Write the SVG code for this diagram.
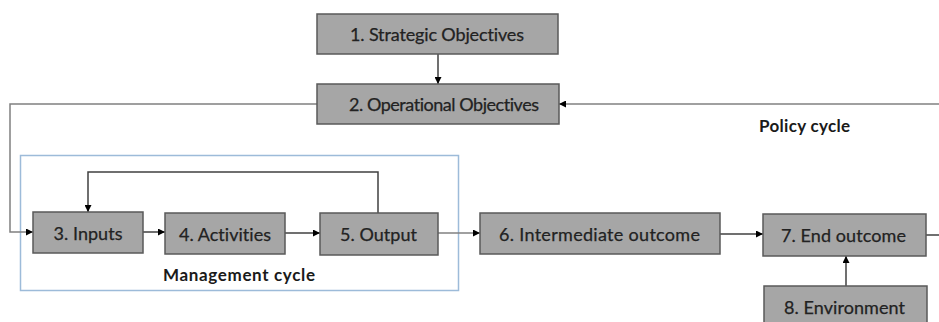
<svg xmlns="http://www.w3.org/2000/svg" width="939" height="322" viewBox="0 0 939 322">
<style>
.box{fill:#a6a6a6;stroke:#595959;stroke-width:1.5}
.lbl{font-family:Lato,"Liberation Sans",sans-serif;font-size:18px;fill:#222;text-anchor:middle;dominant-baseline:central;font-variant-ligatures:none;stroke:#222;stroke-width:0.25}
.cap{font-family:Lato,"Liberation Sans",sans-serif;font-size:17px;font-weight:bold;fill:#1a1a1a;text-anchor:middle;dominant-baseline:central}
.ln{fill:none;stroke:#404040;stroke-width:1.5}
.gl{fill:none;stroke:#808080;stroke-width:1.5}
</style>
<defs>
<marker id="ah" viewBox="0 0 10 10" refX="10" refY="5" markerWidth="7" markerHeight="7" markerUnits="userSpaceOnUse" orient="auto"><path d="M0,0L10,5L0,10z" fill="#000"/></marker>
</defs>
<rect x="0" y="0" width="939" height="322" fill="#fff"/>
<rect id="mgmt-frame" x="20.5" y="155.5" width="438" height="135" fill="none" stroke="#9dbbd9" stroke-width="1.5"/>
<g id="connectors">
<path class="ln" d="M438,54V84" marker-end="url(#ah)"/>
<path class="gl" d="M939,104H559" marker-end="url(#ah)"/>
<path class="gl" d="M317,104H10V232H33" marker-end="url(#ah)"/>
<path class="ln" d="M378,213V172H88V212" marker-end="url(#ah)"/>
<path class="ln" d="M143,232H165" marker-end="url(#ah)"/>
<path class="ln" d="M285,233H320" marker-end="url(#ah)"/>
<path class="gl" d="M438,233H480" marker-end="url(#ah)"/>
<path class="ln" d="M720,234H763" marker-end="url(#ah)"/>
<path class="ln" d="M926,235H939"/>
<path class="ln" d="M846,286V256" marker-end="url(#ah)"/>
</g>
<g id="n1"><rect class="box" x="317" y="14" width="241" height="40"/><text class="lbl" x="437" y="34" textLength="174">1. Strategic Objectives</text></g>
<g id="n2"><rect class="box" x="317" y="84" width="242" height="40"/><text class="lbl" x="444" y="104" textLength="190">2. Operational Objectives</text></g>
<g id="n3"><rect class="box" x="33" y="212" width="110" height="41"/><text class="lbl" x="88" y="232.5" textLength="69">3. Inputs</text></g>
<g id="n4"><rect class="box" x="165" y="213" width="120" height="41"/><text class="lbl" x="225" y="233.5" textLength="92">4. Activities</text></g>
<g id="n5"><rect class="box" x="320" y="213" width="118" height="42"/><text class="lbl" x="378.5" y="234" textLength="77">5. Output</text></g>
<g id="n6"><rect class="box" x="480" y="213" width="240" height="41"/><text class="lbl" x="599.5" y="233.5" textLength="201">6. Intermediate outcome</text></g>
<g id="n7"><rect class="box" x="763" y="214" width="163" height="42"/><text class="lbl" x="843.5" y="235" textLength="125">7. End outcome</text></g>
<g id="n8"><rect class="box" x="764" y="286" width="163" height="42"/><text class="lbl" x="844.5" y="307" textLength="121">8. Environment</text></g>
<text class="cap" x="804.5" y="125" textLength="91">Policy cycle</text>
<text class="cap" x="239" y="274" textLength="152">Management cycle</text>
</svg>
